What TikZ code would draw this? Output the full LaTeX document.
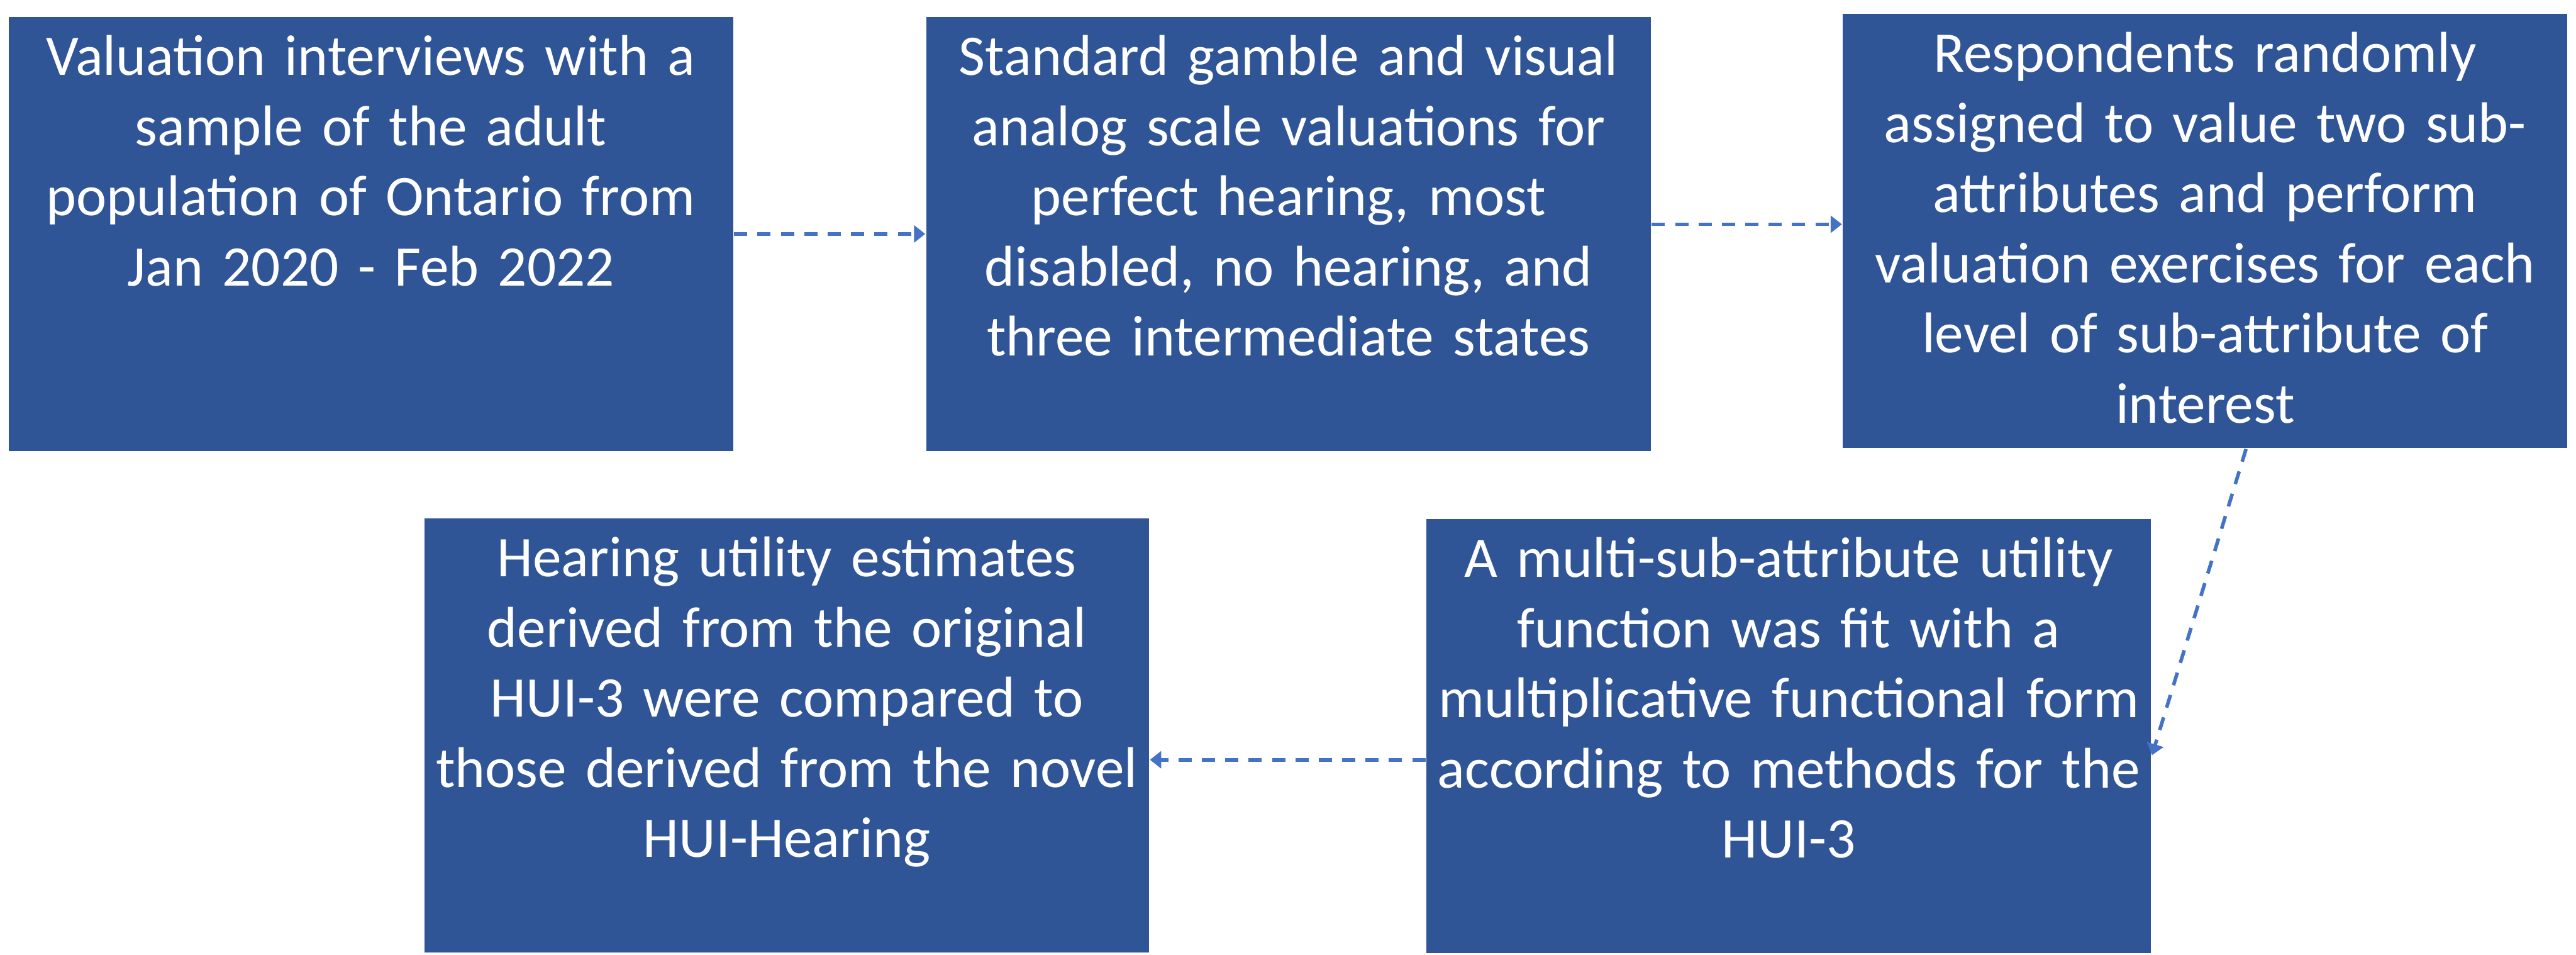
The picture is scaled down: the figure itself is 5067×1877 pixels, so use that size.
\documentclass[tikz,border=0pt]{standalone}
\usepackage{fontspec}
\setmainfont{Carlito}
\usetikzlibrary{arrows.meta}
\definecolor{boxblue}{HTML}{2F5597}
\definecolor{arrblue}{HTML}{4472C4}
\begin{document}
\begin{tikzpicture}[x=0.1pt,y=-0.1pt,
  stepbox/.style={fill=boxblue, draw=none, inner sep=0pt, anchor=north west,
    minimum width=142.5pt, minimum height=85.4pt},
  txt/.style={text=white, inner sep=0pt, anchor=base, align=center, text width=140pt,
    font=\fontsize{11.3pt}{13.8pt}\selectfont},
  arr/.style={draw=arrblue, line width=0.7pt, dash pattern=on 2.6pt off 2pt,
    -{Triangle[length=2.2pt,width=3.3pt]}}]
\useasboundingbox (0,0) rectangle (5067,1877);
\node[stepbox] (b1) at (15,31) {};
\node[stepbox] (b2) at (1820,31) {};
\node[stepbox] (b3) at (3623,25) {};
\node[stepbox] (b4) at (833,1017) {};
\node[stepbox] (b5) at (2804,1018) {};
\node[txt] (t1) at ([yshift=-11.7pt]b1.north) {Valuation interviews with a\\sample of the adult\\population of Ontario from\\Jan 2020 - Feb 2022};
\node[txt] (t2) at ([yshift=-11.7pt]b2.north) {Standard gamble and visual\\analog scale valuations for\\perfect hearing, most\\disabled, no hearing, and\\three intermediate states};
\node[txt] (t3) at ([yshift=-11.7pt]b3.north) {Respondents randomly\\assigned to value two sub-\\attributes and perform\\valuation exercises for each\\level of sub-attribute of\\interest};
\node[txt] (t4) at ([yshift=-11.7pt]b4.north) {Hearing utility estimates\\derived from the original\\HUI-3 were compared to\\those derived from the novel\\HUI-Hearing};
\node[txt] (t5) at ([yshift=-11.7pt]b5.north) {A multi-sub-attribute utility\\function was fit with a\\multiplicative functional form\\according to methods for the\\HUI-3};
\draw[arr] (b1.east) -- (b2.west);
\draw[arr] ([yshift=1.9pt]b2.east) -- ([yshift=1.9pt]b2.east -| b3.west);
\draw[arr] ([xshift=8.05pt]b3.south) -- ([yshift=-3.8pt]b5.east);
\draw[arr] ([yshift=-4.7pt]b5.west) -- ([yshift=-4.7pt]b5.west -| b4.east);
\end{tikzpicture}
\end{document}
